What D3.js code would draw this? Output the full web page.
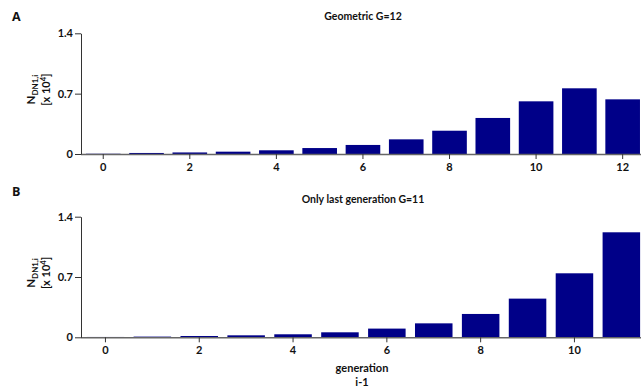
<!DOCTYPE html>
<html>
<head>
<meta charset="utf-8">
<script src="https://cdn.jsdelivr.net/npm/d3@7"></script>
<style>
  body { margin: 0; background: #fff; }
  text { font-family: Lato, "Open Sans", sans-serif; font-weight: 700; fill: #111; }
</style>
</head>
<body>
<div id="chart"></div>
<script>
(function () {
  // values are in units of 10^4
  let genA = d3.range(0, 13);
  let valuesA = [0.003, 0.012, 0.018, 0.027, 0.043, 0.069, 0.105, 0.170, 0.270, 0.418, 0.611, 0.762, 0.634];
  let genB = d3.range(0, 12);
  let valuesB = [0.004, 0.008, 0.015, 0.023, 0.035, 0.058, 0.101, 0.162, 0.271, 0.449, 0.743, 1.219];
  let yTicks = [0, 0.7, 1.4];

  let width = 641, height = 390;
  let barColor = '#000088';

  let svg = d3.select('#chart').append('svg')
    .attr('width', width)
    .attr('height', height);

  let panels = [
    { letter: 'A', title: 'Geometric G=12', gens: genA, values: valuesA,
      top: 33.3, bottom: 154, x0: 81.6, x1: 644.3, letterY: 21, titleY: 20, xlabel: false },
    { letter: 'B', title: 'Only last generation G=11', gens: genB, values: valuesB,
      top: 216.7, bottom: 337.3, x0: 82, x1: 644.8, letterY: 196, titleY: 203, xlabel: true }
  ];

  panels.forEach((p) => {
    let xscale = d3.scaleBand()
      .domain(p.gens)
      .range([p.x0, p.x1])
      .paddingInner(0.2)
      .paddingOuter(0.1);

    let yscale = d3.scaleLinear()
      .domain([0, 1.4])
      .range([p.bottom, p.top]);

    let g = svg.append('g');

    g.append('text')
      .attr('x', 12)
      .attr('y', p.letterY)
      .style('font-size', '12.5px')
      .style('font-family', '"Open Sans", sans-serif')
      .text(p.letter);

    g.append('text')
      .attr('x', 363)
      .attr('y', p.titleY)
      .attr('text-anchor', 'middle')
      .style('font-size', '10.5px')
      .text(p.title);

    g.append('g')
      .selectAll('rect')
      .data(p.values)
      .enter()
      .append('rect')
      .attr('x', (d, i) => xscale(p.gens[i]))
      .attr('y', (d) => yscale(d))
      .attr('width', xscale.bandwidth())
      .attr('height', (d) => p.bottom - yscale(d))
      .attr('fill', barColor);

    // x axis
    let xAxis = g.append('g')
      .attr('transform', `translate(0, ${p.bottom})`)
      .call(d3.axisBottom(xscale)
        .tickValues(p.gens.filter((d) => d % 2 === 0))
        .tickSize(5)
        .tickSizeOuter(0)
        .tickPadding(4));
    xAxis.select('.domain').attr('stroke', '#666').attr('stroke-width', 1.6)
      .attr('d', `M81,0.5H${width}`);
    xAxis.selectAll('.tick line').attr('stroke', '#333');
    xAxis.selectAll('.tick text')
      .style('font-size', '11px')
      .attr('fill', '#111');

    // y axis
    let yAxis = g.append('g')
      .attr('transform', 'translate(81, 0)')
      .call(d3.axisLeft(yscale)
        .tickValues(yTicks)
        .tickFormat((d) => (d === 0 ? '0' : d.toFixed(1)))
        .tickSize(6)
        .tickSizeOuter(0)
        .tickPadding(2));
    yAxis.select('.domain').attr('stroke', '#333');
    yAxis.selectAll('.tick line').attr('stroke', '#333');
    yAxis.selectAll('.tick text')
      .style('font-size', '11px')
      .attr('fill', '#111');

    // y label
    let cy = (p.top + p.bottom) / 2 - 4;
    let l1 = g.append('text')
      .attr('transform', `translate(35, ${cy}) rotate(-90)`)
      .attr('text-anchor', 'middle')
      .style('font-size', '11.5px');
    l1.append('tspan').text('N');
    l1.append('tspan')
      .attr('dy', 3)
      .style('font-size', '8px')
      .text('DN1,i');

    let l2 = g.append('text')
      .attr('transform', `translate(50, ${cy}) rotate(-90)`)
      .attr('text-anchor', 'middle')
      .style('font-size', '11px');
    l2.append('tspan').text('[x 10');
    l2.append('tspan')
      .attr('dy', -4)
      .style('font-size', '7.5px')
      .text('4');
    l2.append('tspan')
      .attr('dy', 4)
      .text(']');

    if (p.xlabel) {
      g.append('text')
        .attr('x', 362)
        .attr('y', 372)
        .attr('text-anchor', 'middle')
        .style('font-size', '11px')
        .text('generation');
      g.append('text')
        .attr('x', 362)
        .attr('y', 386)
        .attr('text-anchor', 'middle')
        .style('font-size', '11px')
        .text('i-1');
    }
  });
})();
</script>
</body>
</html>
